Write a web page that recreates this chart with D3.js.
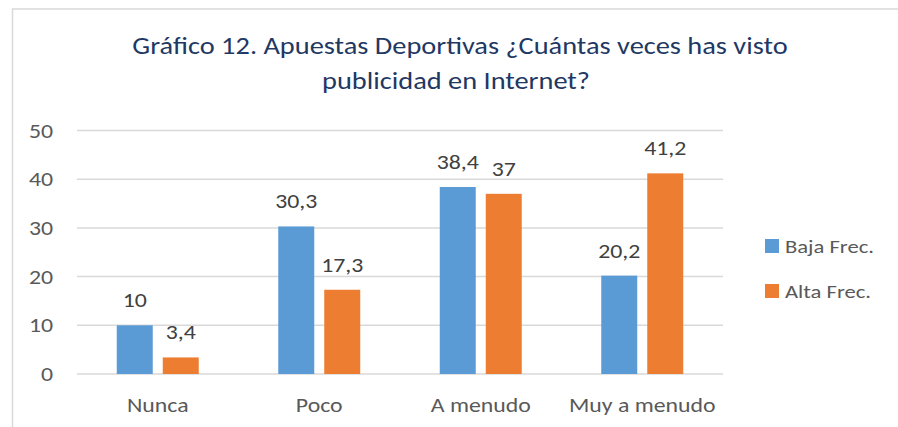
<!DOCTYPE html>
<meta charset="utf-8">
<style>
body { margin: 0; background: #fff; }
svg { display: block; font-family: Carlito, Calibri, Lato, sans-serif; }
.grid line { stroke: #d9d9d9; stroke-width: 1.5px; }
.tick-label { fill: #595959; font-size: 20px; }
.cat-label { fill: #595959; font-size: 20px; }
.value-label { fill: #404040; font-size: 20px; }
.legend text { fill: #595959; font-size: 19px; }
.title { fill: #1f3864; font-size: 25px; }
</style>
<body>
<script src="https://cdn.jsdelivr.net/npm/d3@7"></script>
<svg id="chart" width="898" height="427"></svg>
<script>

// data
var categories = ["Nunca", "Poco", "A menudo", "Muy a menudo"];
var seriesNames = ["Baja Frec.", "Alta Frec."];
var bajaFrec = [10, 30.3, 38.4, 20.2];
var altaFrec = [3.4, 17.3, 37, 41.2];
var yTicks = [0, 10, 20, 30, 40, 50];
var titleLines = ["Gráfico 12. Apuestas Deportivas ¿Cuántas veces has visto", "publicidad en Internet?"];

var colors = ["#5b9bd5", "#ed7d31"];
var values = [bajaFrec, altaFrec];

var plot = {left: 77, right: 723, top: 130.5, bottom: 374};

// the original picture is a bit stretched sideways
var stretch = 1.19;
function place(x, y, s) {
  return "translate(" + x + "," + y + ") scale(" + (s || stretch) + ",1)";
}

var svg = d3.select("#chart");

svg.append("rect")
    .attr("width", 898)
    .attr("height", 427)
    .attr("fill", "#fff");

// chart area frame (only top and left show)
svg.append("path")
    .attr("d", "M12.5,427V9H898")
    .attr("fill", "none")
    .attr("stroke", "#d9d9d9")
    .attr("stroke-width", 1.5);

// title
svg.append("g").selectAll("text")
    .data(titleLines)
    .enter().append("text")
      .attr("class", "title")
      .attr("text-anchor", "middle")
      .attr("transform", function(d, i) { return place(i == 0 ? 460 : 456, i == 0 ? 54 : 89, 1.135); })
      .text(function(d) { return d; });

var y = d3.scaleLinear()
    .domain([0, 50])
    .range([plot.bottom, plot.top]);

var x0 = d3.scaleBand()
    .domain(categories)
    .range([plot.left, plot.right]);

var x1 = d3.scaleBand()
    .domain(seriesNames)
    .range([39.75, x0.bandwidth() - 39.75])
    .paddingInner(10 / 46);

// gridlines
var grid = svg.append("g").attr("class", "grid");
grid.selectAll("line")
    .data(yTicks)
    .enter().append("line")
      .attr("x1", plot.left)
      .attr("x2", plot.right)
      .attr("y1", function(d) { return y(d); })
      .attr("y2", function(d) { return y(d); });

// y tick labels
svg.append("g").selectAll("text")
    .data(yTicks)
    .enter().append("text")
      .attr("class", "tick-label")
      .attr("transform", function(d) { return place(53, y(d)); })
      .attr("dy", "0.35em")
      .attr("text-anchor", "end")
      .text(function(d) { return d; });

// bars
var groups = svg.append("g").selectAll("g")
    .data(categories)
    .enter().append("g")
      .attr("transform", function(d) { return "translate(" + x0(d) + ",0)"; });

var cells = groups.selectAll("g")
    .data(function(d, i) {
      return seriesNames.map(function(s, j) { return {series: s, value: values[j][i], idx: j}; });
    })
    .enter().append("g");

cells.append("rect")
    .attr("x", function(d) { return x1(d.series); })
    .attr("y", function(d) { return y(d.value); })
    .attr("width", x1.bandwidth())
    .attr("height", function(d) { return y(0) - y(d.value); })
    .attr("fill", function(d) { return colors[d.idx]; });

cells.append("text")
    .attr("class", "value-label")
    .attr("text-anchor", "middle")
    .attr("transform", function(d) { return place(x1(d.series) + x1.bandwidth() / 2, y(d.value) - 18); })
    .text(function(d) { return String(d.value).replace(".", ","); });

// category labels
svg.append("g").selectAll("text")
    .data(categories)
    .enter().append("text")
      .attr("class", "cat-label")
      .attr("text-anchor", "middle")
      .attr("transform", function(d) { return place(x0(d) + x0.bandwidth() / 2, 412); })
      .text(function(d) { return d; });

// legend
var legend = svg.append("g").attr("class", "legend")
  .selectAll("g")
    .data(seriesNames)
    .enter().append("g")
      .attr("transform", function(d, i) { return "translate(765," + (239 + i * 45) + ")"; });

legend.append("rect")
    .attr("width", 14)
    .attr("height", 14)
    .attr("fill", function(d, i) { return colors[i]; });

legend.append("text")
    .attr("transform", place(20, 14))
    .text(function(d) { return d; });

</script>
</body>
